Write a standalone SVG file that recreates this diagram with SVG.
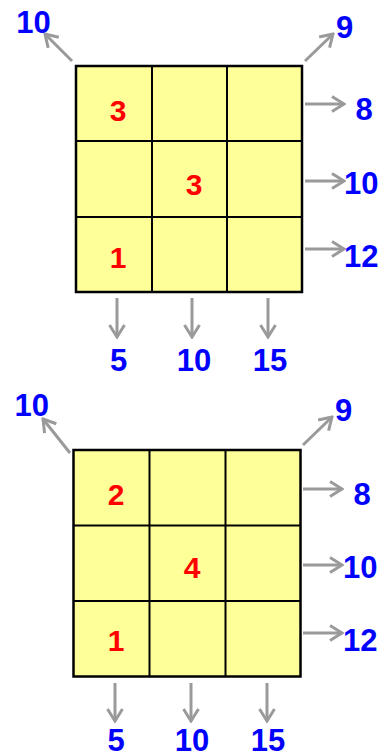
<svg xmlns="http://www.w3.org/2000/svg" width="385" height="753" viewBox="0 0 385 753">
<style>
.cell{fill:#FFFF99;stroke:none}
.outer{fill:none;stroke:#000;stroke-width:2.5}
.inner{stroke:#000;stroke-width:2}
.num{font-family:"Liberation Sans",Arial,sans-serif;font-weight:bold;font-size:30px;fill:#FF0000;text-anchor:middle}
.lbl{font-family:"Liberation Sans",Arial,sans-serif;font-weight:bold;font-size:31px;fill:#0000FF;text-anchor:middle}
.lbls{font-family:"Liberation Sans",Arial,sans-serif;font-weight:bold;font-size:31px;fill:#0000FF;text-anchor:start}
.arr{fill:none;stroke:#9A9A9A;stroke-width:3;marker-end:url(#head)}
</style>
<defs>
<marker id="head" viewBox="0 0 15 18" refX="13" refY="9" markerWidth="15" markerHeight="18" markerUnits="userSpaceOnUse" orient="auto">
<path d="M1,1.5 L13,9 L1,16.5" fill="none" stroke="#9A9A9A" stroke-width="3"/>
</marker>
</defs>

<g id="grid1">
<rect class="cell" x="76" y="66" width="226" height="226"/>
<line class="inner" x1="152" y1="66" x2="152" y2="292"/>
<line class="inner" x1="227" y1="66" x2="227" y2="292"/>
<line class="inner" x1="76" y1="141" x2="302" y2="141"/>
<line class="inner" x1="76" y1="217" x2="302" y2="217"/>
<rect class="outer" x="76" y="66" width="226" height="226"/>
<text class="num" x="118" y="120.5">3</text>
<text class="num" x="194" y="194.5">3</text>
<text class="num" x="118" y="267.5">1</text>
</g>

<g id="grid2">
<rect class="cell" x="73.5" y="450" width="227" height="226.5"/>
<line class="inner" x1="149.5" y1="450" x2="149.5" y2="676.5"/>
<line class="inner" x1="225.5" y1="450" x2="225.5" y2="676.5"/>
<line class="inner" x1="73.5" y1="525.5" x2="300.5" y2="525.5"/>
<line class="inner" x1="73.5" y1="601" x2="300.5" y2="601"/>
<rect class="outer" x="73.5" y="450" width="227" height="226.5"/>
<text class="num" x="116" y="504.5">2</text>
<text class="num" x="192" y="577.5">4</text>
<text class="num" x="116" y="650.5">1</text>
</g>

<g id="connectors">
<path class="arr" d="M72,61 L45,34"/>
<path class="arr" d="M305,61 L333,34"/>
<path class="arr" d="M305,104 L344,104"/>
<path class="arr" d="M305,181 L344,181"/>
<path class="arr" d="M305,249 L344,249"/>
<path class="arr" d="M117,298 L117,337"/>
<path class="arr" d="M192,298 L192,337"/>
<path class="arr" d="M268,298 L268,337"/>
<path class="arr" d="M70,453 L43,419"/>
<path class="arr" d="M303,445 L332,417"/>
<path class="arr" d="M303,489 L342,489"/>
<path class="arr" d="M303,565 L342,565"/>
<path class="arr" d="M303,633 L342,633"/>
<path class="arr" d="M115,683 L115,721"/>
<path class="arr" d="M191,683 L191,721"/>
<path class="arr" d="M267,683 L267,721"/>
</g>

<g id="labels1">
<text class="lbl" x="33.5" y="32.5">10</text>
<text class="lbl" x="344.5" y="37.5">9</text>
<text class="lbl" x="364" y="119.5">8</text>
<text class="lbls" x="344" y="193.5">10</text>
<text class="lbls" x="344" y="266.5">12</text>
<text class="lbl" x="118.5" y="370.5">5</text>
<text class="lbl" x="194" y="370.5">10</text>
<text class="lbl" x="270" y="370.5">15</text>
</g>

<g id="labels2">
<text class="lbl" x="31.7" y="416">10</text>
<text class="lbl" x="343.7" y="421">9</text>
<text class="lbl" x="362" y="504.5">8</text>
<text class="lbls" x="343" y="577.5">10</text>
<text class="lbls" x="343" y="650.5">12</text>
<text class="lbl" x="116" y="751">5</text>
<text class="lbl" x="192" y="751">10</text>
<text class="lbl" x="268" y="751">15</text>
</g>
</svg>
